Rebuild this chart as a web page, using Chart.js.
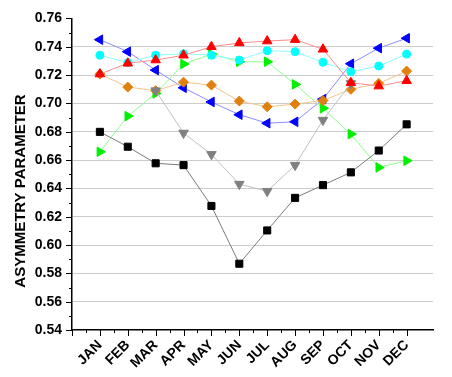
<!DOCTYPE html>
<html>
<head>
<meta charset="utf-8">
<script src="https://cdn.jsdelivr.net/npm/chart.js@4/dist/chart.umd.min.js"></script>
<style>
  body { margin: 0; background: #fff; }
  #wrap { width: 452px; height: 377px; }
</style>
</head>
<body>
<div id="wrap"><canvas id="asymChart" width="452" height="377"></canvas></div>
<script>
// months along the x axis
const months = ['JAN', 'FEB', 'MAR', 'APR', 'MAY', 'JUN', 'JUL', 'AUG', 'SEP', 'OCT', 'NOV', 'DEC'];

// asymmetry parameter
const blueVals   = [0.745, 0.7365, 0.7235, 0.711, 0.701, 0.692, 0.686, 0.687, 0.703, 0.728, 0.739, 0.746];
const cyanVals   = [0.734, 0.7287, 0.734, 0.735, 0.734, 0.7306, 0.7372, 0.7365, 0.729, 0.7223, 0.7264, 0.7348];
const redVals    = [0.7207, 0.7283, 0.7306, 0.734, 0.74, 0.7427, 0.744, 0.745, 0.7382, 0.7146, 0.7122, 0.716];
const orangeVals = [0.7207, 0.7115, 0.709, 0.715, 0.7129, 0.7016, 0.6976, 0.6995, 0.702, 0.7099, 0.7141, 0.7228];
const greenVals  = [0.6658, 0.691, 0.707, 0.7278, 0.7348, 0.7294, 0.7294, 0.7134, 0.6965, 0.6783, 0.6548, 0.6595];
const grayVals   = [null, null, 0.709, 0.6791, 0.664, 0.643, 0.638, 0.6564, 0.6882, 0.7141, null, null];
const blackVals  = [0.6799, 0.6694, 0.6577, 0.6564, 0.6276, 0.5868, 0.6103, 0.6333, 0.6423, 0.6513, 0.6667, 0.6852];

// y tick range
const yMin = 0.54;
const yMax = 0.76;

function pts(vals) {
  return vals.map((v, i) => ({ x: i + 1, y: v }));
}

function series(label, vals, line, mark, style, radius, rot) {
  return {
    label: label,
    data: pts(vals),
    borderColor: line,
    borderWidth: 1,
    backgroundColor: mark,
    pointBackgroundColor: mark,
    pointBorderColor: mark,
    pointBorderWidth: 1,
    pointStyle: style,
    pointRadius: radius,
    rotation: rot || 0,
    tension: 0
  };
}

// draws the y axis title and tick marks (long on labelled ticks, short between)
const axisExtras = {
  id: 'axisExtras',
  afterDraw(chart) {
    const ctx = chart.ctx;
    const xs = chart.scales.x;
    const ys = chart.scales.y;
    ctx.save();
    ctx.strokeStyle = '#000';
    ctx.lineWidth = 1;
    ys.ticks.forEach(t => {
      const k = Math.round(t.value * 100);
      const y = Math.round(ys.getPixelForValue(k / 100)) + 0.5;
      const len = k % 2 === 0 ? 6 : 3;
      ctx.beginPath();
      ctx.moveTo(xs.left - len, y);
      ctx.lineTo(xs.left, y);
      ctx.stroke();
    });
    xs.ticks.forEach(t => {
      const h = Math.round(t.value * 2);
      if (Math.abs(t.value * 2 - h) > 0.001) return;
      const x = Math.round(xs.getPixelForValue(h / 2)) + 0.5;
      const len = h % 2 === 0 ? 6 : 3;
      ctx.beginPath();
      ctx.moveTo(x, ys.bottom);
      ctx.lineTo(x, ys.bottom + len);
      ctx.stroke();
    });
    ctx.translate(21, 191);
    ctx.rotate(-Math.PI / 2);
    ctx.fillStyle = '#000';
    ctx.font = 'bold 15px "Liberation Sans", Arial, sans-serif';
    ctx.textAlign = 'center';
    ctx.textBaseline = 'middle';
    ctx.fillText('ASYMMETRY PARAMETER', 0, 0);
    ctx.restore();
  }
};

let asymChart = new Chart(document.getElementById('asymChart'), {
  type: 'line',
  data: {
    datasets: [
      series('black', blackVals, '#7a7a7a', '#000000', 'rect', 5),
      series('red', redVals, '#ff8c8c', '#ff0000', 'triangle', 5.5),
      series('gray', grayVals, '#c0c0c0', '#808080', 'triangle', 5.5, 180),
      series('orange', orangeVals, '#f3c48e', '#e0800f', 'rectRot', 5),
      series('cyan', cyanVals, '#8cffff', '#00ffff', 'circle', 4),
      series('green', greenVals, '#8cff8c', '#00f000', 'triangle', 5.5, 90),
      series('blue', blueVals, '#8c8cff', '#0000ff', 'triangle', 5.5, -90)
    ]
  },
  options: {
    responsive: false,
    animation: false,
    layout: { padding: { top: 18, right: 0, left: 0, bottom: 0 } },
    plugins: {
      legend: { display: false },
      tooltip: { enabled: false }
    },
    scales: {
      x: {
        type: 'linear',
        min: 0,
        max: 12.95,
        afterFit(scale) { scale.height = 47; },
        border: { display: true, color: '#000', width: 1.5 },
        grid: { display: false, drawTicks: false },
        ticks: {
          stepSize: 0.5,
          autoSkip: false,
          minRotation: 45,
          maxRotation: 45,
          padding: 7,
          color: '#000',
          font: { family: '"Liberation Sans", Arial, sans-serif', size: 14, weight: 'bold' },
          callback: function (v) {
            const i = Math.round(v);
            if (Math.abs(v - i) < 0.001 && i >= 1 && i <= 12) return months[i - 1];
            return '';
          }
        }
      },
      y: {
        min: yMin,
        max: yMax,
        afterFit(scale) { scale.width = 72; },
        border: { display: true, color: '#000', width: 1.5 },
        grid: {
          drawTicks: false,
          lineWidth: 1,
          color: function (c) {
            const k = Math.round(c.tick.value * 100);
            return (k % 2 === 0 && k > 54 && k < 76) ? '#cccccc' : 'rgba(0,0,0,0)';
          }
        },
        ticks: {
          stepSize: 0.01,
          autoSkip: false,
          padding: 10,
          color: '#000',
          font: { family: '"Liberation Sans", Arial, sans-serif', size: 14, weight: 'bold' },
          callback: function (v) {
            const k = Math.round(v * 100);
            return k % 2 === 0 ? (k / 100).toFixed(2) : '';
          }
        }
      }
    }
  },
  plugins: [axisExtras]
});
</script>
</body>
</html>
